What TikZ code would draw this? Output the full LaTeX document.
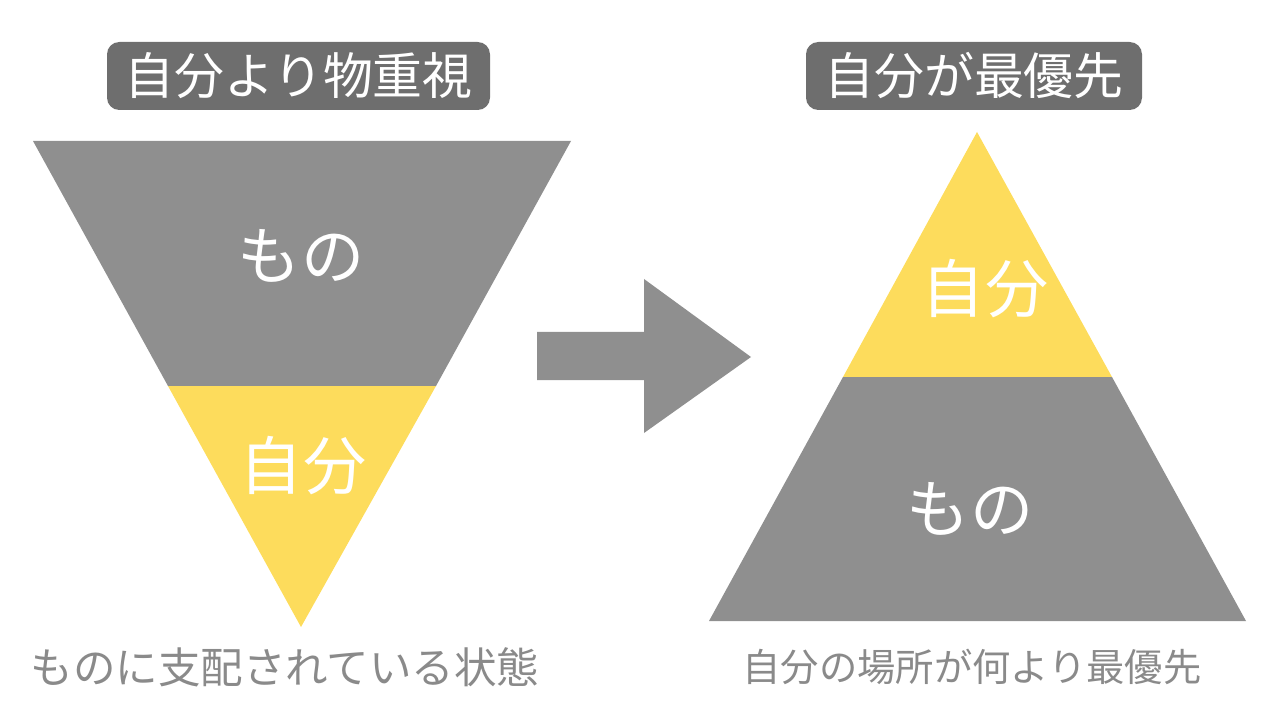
\documentclass[tikz,border=0pt]{standalone}
\usepackage{fontspec}
\usepackage{tikz}
\newfontfamily\jp{Noto Sans CJK JP}
\definecolor{thingGray}{HTML}{8F8F8F}
\definecolor{selfYellow}{HTML}{FDDC5C}
\definecolor{boxGray}{HTML}{6E6E6E}
\definecolor{noteGray}{HTML}{8A8A8A}
\tikzset{
  titlebox/.style={fill=boxGray, rounded corners=7pt, text=white, minimum height=68*0.2mm, inner sep=0pt, font=\jp\fontsize{28.4pt}{28.4pt}\selectfont},
  biglabel/.style={text=white, font=\jp\fontsize{36pt}{36pt}\selectfont},
  note/.style={text=noteGray, font=\jp\fontsize{#1}{#1}\selectfont},
}

\begin{document}
\begin{tikzpicture}[x=0.2mm,y=-0.2mm]
\useasboundingbox (0,0) rectangle (1280,720);

% left: upside-down pyramid
\fill[thingGray] (33,141) -- (571,141) -- (436,386) -- (168,386) -- cycle;
\fill[selfYellow] (168,386) -- (436,386) -- (301,627) -- cycle;

% right: pyramid
\fill[selfYellow] (977,132) -- (1112,377) -- (843,377) -- cycle;
\fill[thingGray] (843,377) -- (1112,377) -- (1246,621) -- (709,621) -- cycle;

% arrow
\fill[thingGray] (537,332) -- (644,332) -- (644,279) -- (751,357) -- (644,433) -- (644,380) -- (537,380) -- cycle;

\node[titlebox, minimum width=383*0.2mm] (ltitle) at (298.5,76) {自分より物重視};
\node[titlebox, minimum width=336*0.2mm] (rtitle) at (974,76) {自分が最優先};

\node[biglabel] (lthing) at (301,256) {もの};
\node[biglabel] (lself) at (303,466) {自分};
\node[biglabel] (rself) at (985,289) {自分};
\node[biglabel] (rthing) at (970,509) {もの};

\node[note=24.2pt] (lnote) at (285,667) {ものに支配されている状態};
\node[note=21.8pt] (rnote) at (972,667) {自分の場所が何より最優先};
\end{tikzpicture}
\end{document}
